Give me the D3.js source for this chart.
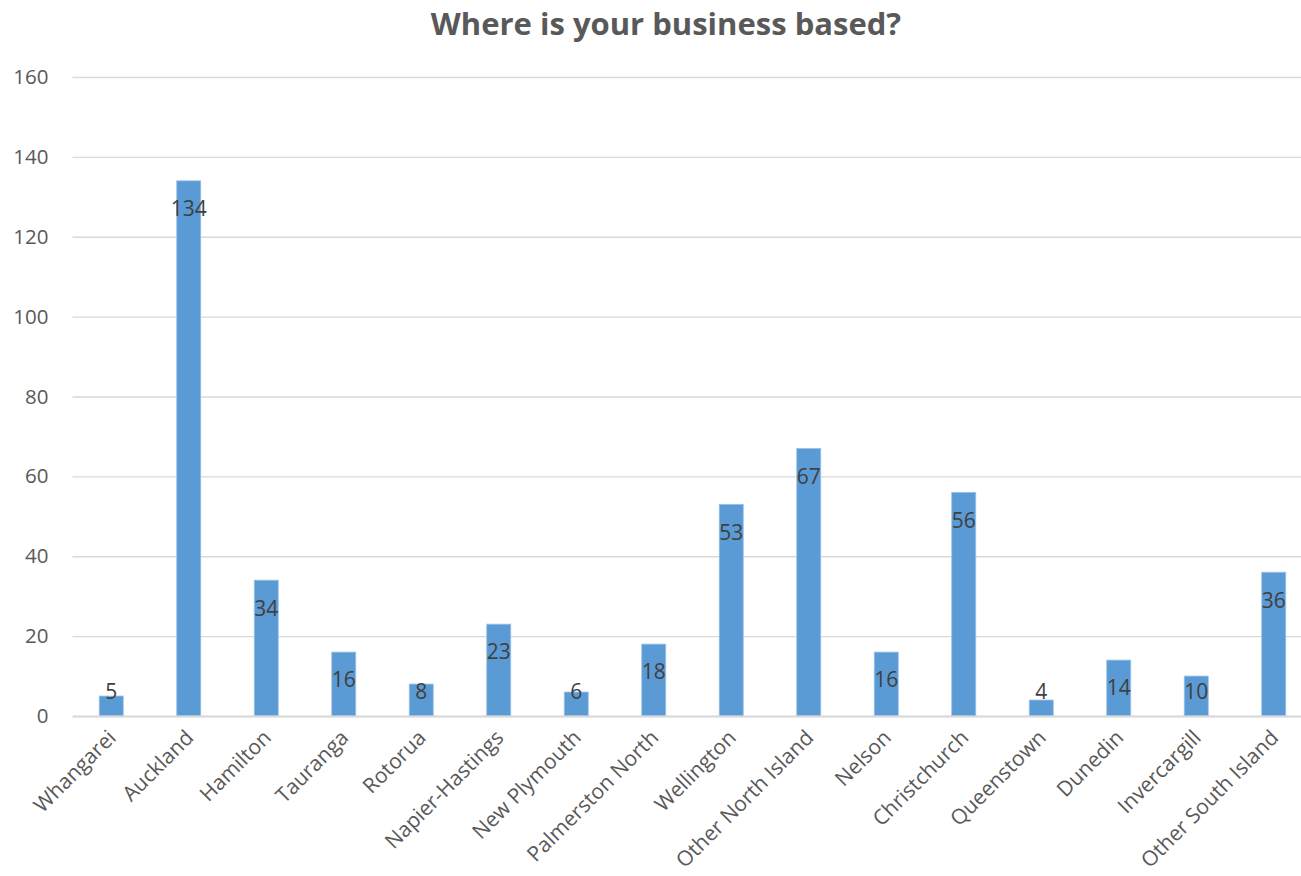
<!DOCTYPE html>
<html>
<head>
<meta charset="utf-8">
<script src="https://cdn.jsdelivr.net/npm/d3@7/dist/d3.min.js"></script>
<style>
  html, body { margin: 0; padding: 0; background: #ffffff; }
  svg { display: block; font-family: "Open Sans", "Noto Sans", sans-serif; }
</style>
</head>
<body>
<svg id="chart" width="1301" height="876"></svg>
<script>
// Survey responses: where each business is based
const categories = [
  "Whangarei", "Auckland", "Hamilton", "Tauranga", "Rotorua",
  "Napier-Hastings", "New Plymouth", "Palmerston North", "Wellington",
  "Other North Island", "Nelson", "Christchurch", "Queenstown",
  "Dunedin", "Invercargill", "Other South Island"
];
const counts = [5, 134, 34, 16, 8, 23, 6, 18, 53, 67, 16, 56, 4, 14, 10, 36];
const yTicks = [0, 20, 40, 60, 80, 100, 120, 140, 160];
const chartTitle = "Where is your business based?";

const svg = d3.select("#chart");
const plot = { left: 72.5, right: 1312.5, top: 77, bottom: 716 };

const x = d3.scaleBand()
  .domain(categories)
  .range([plot.left, plot.right])
  .paddingInner(0.69)
  .paddingOuter(0.345);

const y = d3.scaleLinear()
  .domain([0, 160])
  .range([plot.bottom, plot.top]);

// Title
svg.append("text")
  .attr("x", 666)
  .attr("y", 35)
  .attr("text-anchor", "middle")
  .attr("font-size", 31)
  .attr("font-weight", 700)
  .attr("fill", "#595959")
  .text(chartTitle);

// Horizontal gridlines and value labels
const yAxis = d3.axisLeft(y)
  .tickValues(yTicks)
  .tickSize(-(plot.right - plot.left))
  .tickPadding(24);

const gy = svg.append("g")
  .attr("transform", `translate(${plot.left},0)`)
  .call(yAxis);
gy.select(".domain").remove();
gy.selectAll(".tick line")
  .attr("stroke", "#d9d9d9")
  .attr("stroke-width", 1.3);
gy.selectAll(".tick text")
  .attr("font-size", 20.5)
  .attr("font-family", "Open Sans, sans-serif")
  .attr("fill", "#595959");

// Bars
svg.append("g")
  .selectAll("rect")
  .data(counts)
  .join("rect")
  .attr("x", (d, i) => x(categories[i]))
  .attr("y", d => y(d))
  .attr("width", x.bandwidth())
  .attr("height", d => y(0) - y(d))
  .attr("fill", "#5b9bd5")
  .attr("stroke", "#9cc2e8")
  .attr("stroke-width", 0.8);

// Category axis
const xAxis = d3.axisBottom(x).tickSize(0).tickPadding(0);
const gx = svg.append("g")
  .attr("transform", `translate(0,${plot.bottom})`)
  .call(xAxis);
gx.select(".domain")
  .attr("stroke", "#d9d9d9")
  .attr("stroke-width", 2.2);
gx.selectAll(".tick text")
  .attr("font-size", 21)
  .attr("font-family", "Open Sans, sans-serif")
  .attr("fill", "#595959")
  .attr("text-anchor", "end")
  .attr("dy", null)
  .attr("y", 0)
  .attr("transform", "translate(6,23) rotate(-45)");

// Data labels inside the top of each bar
svg.append("g")
  .selectAll("text")
  .data(counts)
  .join("text")
  .attr("x", (d, i) => x(categories[i]) + x.bandwidth() / 2)
  .attr("y", d => Math.min(y(d) + 28, 691.5))
  .attr("dy", "0.35em")
  .attr("text-anchor", "middle")
  .attr("font-size", 21)
  .attr("fill", "#404040")
  .text(d => d);
</script>
</body>
</html>
